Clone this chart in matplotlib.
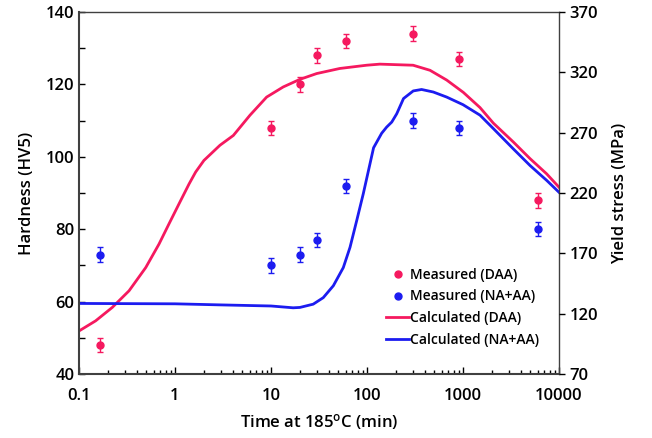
import numpy as np
import matplotlib
matplotlib.use("Agg")
import matplotlib.pyplot as plt
from matplotlib.lines import Line2D
from matplotlib.ticker import LogLocator, FixedLocator, NullFormatter

plt.rcParams['font.family'] = ['Open Sans', 'DejaVu Sans']
plt.rcParams['mathtext.default'] = 'regular'

# measured hardness (HV5)
meas_time = [0.167, 10, 20, 30, 60, 300, 900, 6000]
meas_daa = [48, 108, 120, 128, 132, 134, 127, 88]
meas_na_aa = [73, 70, 73, 77, 92, 110, 108, 80]
meas_err = [2, 2, 2, 2, 2, 2, 2, 2]

# calculated curves
calc_daa_t = [0.1, 0.149, 0.222, 0.332, 0.495, 0.681, 0.866, 1.10, 1.40, 1.64, 2.0,
              2.94, 4.05, 6.04, 9.0, 13.4, 20, 29.9, 52, 99, 136, 302, 453, 676,
              1007, 1503, 2070, 3340, 4990, 7430, 10000]
calc_daa_hv = [51.9, 54.7, 58.4, 63.0, 69.4, 75.9, 81.5, 87.0, 92.5, 95.8, 99.0,
               103.2, 105.9, 111.5, 116.5, 119.3, 121.4, 123.0, 124.4, 125.3, 125.6, 125.3, 123.9, 121.2,
               117.8, 113.6, 109.3, 104.1, 99.5, 95.3, 91.6]
calc_na_t = [0.1, 1, 3, 10, 17, 20, 27.5, 35, 44.6, 56.6, 66.5, 78.1, 91.4, 107.4, 117,
             142, 160, 181, 204, 240, 303, 370, 490, 676, 1000, 1503, 2070, 3340,
             4990, 7430, 10000]
calc_na_hv = [59.5, 59.4, 59.1, 58.8, 58.3, 58.4, 59.3, 61.1, 64.4, 69.4, 75.0, 82.4, 89.8, 98.1, 102.5,
              106.5, 108.2, 109.6, 111.9, 116.1, 118.2, 118.6, 117.9, 116.5, 114.4, 111.5, 107.8, 102.2,
              97.6, 93.5, 90.2]

red = '#f5195f'
blue = '#1c1cf0'

fig = plt.figure(figsize=(6.52, 4.38), dpi=100)
ax = fig.add_axes([0.1212, 0.146, 0.7362, 0.8266])

ax.plot(calc_daa_t, calc_daa_hv, color=red, lw=2)
ax.plot(calc_na_t, calc_na_hv, color=blue, lw=2)
ax.errorbar(meas_time, meas_daa, yerr=meas_err, fmt='o', color=red, ms=5,
            elinewidth=1, capsize=2.5)
ax.errorbar(meas_time, meas_na_aa, yerr=meas_err, fmt='o', color=blue, ms=5,
            elinewidth=1, capsize=2.5)

ax.set_xscale('log')
ax.set_xlim(0.1, 10000)
ax.set_ylim(40, 140)
ax.set_xticks([0.1, 1, 10, 100, 1000, 10000])
ax.set_xticklabels(['0.1', '1', '10', '100', '1000', '10000'])
ax.xaxis.set_minor_locator(LogLocator(base=10, subs=np.arange(2, 10)))
ax.xaxis.set_minor_formatter(NullFormatter())
ax.set_yticks([40, 60, 80, 100, 120, 140])
ax.yaxis.set_minor_locator(FixedLocator([50, 70, 90, 110, 130]))

ax.tick_params(axis='x', which='major', direction='in', length=5, width=1, labelsize=12, pad=10)
ax.tick_params(axis='x', which='minor', direction='in', length=3, width=1)
ax.tick_params(axis='y', which='both', direction='in', length=4, width=1, labelsize=12)
for lab in ax.get_xticklabels() + ax.get_yticklabels():
    lab.set_fontweight('semibold')

for side in ['left', 'bottom']:
    ax.spines[side].set_linewidth(1.5)
    ax.spines[side].set_color('#404040')
for side in ['top', 'right']:
    ax.spines[side].set_linewidth(1.0)
    ax.spines[side].set_color('#404040')

ax.set_xlabel('Time at 185$^{o}$C (min)', fontsize=12, fontweight='semibold', labelpad=6)
ax.set_ylabel('Hardness (HV5)', fontsize=12, fontweight='semibold', labelpad=8)

ax2 = ax.twinx()
ax2.set_ylim(70, 370)
ax2.set_yticks([70, 120, 170, 220, 270, 320, 370])
ax2.tick_params(axis='y', direction='out', length=4, width=1, labelsize=12)
for lab in ax2.get_yticklabels():
    lab.set_fontweight('semibold')
ax2.set_ylabel('Yield stress (MPa)', fontsize=12, fontweight='semibold', labelpad=10)
for s in ax2.spines.values():
    s.set_visible(False)

handles = [
    Line2D([], [], ls='none', marker='o', ms=5, color=red),
    Line2D([], [], ls='none', marker='o', ms=5, color=blue),
    Line2D([], [], color=red, lw=2),
    Line2D([], [], color=blue, lw=2),
]
labels = ['Measured (DAA)', 'Measured (NA+AA)', 'Calculated (DAA)', 'Calculated (NA+AA)']
leg = ax.legend(handles, labels, loc='lower right', bbox_to_anchor=(0.97, 0.06),
                frameon=False, fontsize=10, handlelength=1.6, handletextpad=0.1,
                labelspacing=0.55, borderaxespad=0)
for t in leg.get_texts():
    t.set_fontweight('semibold')

fig.savefig('out.png', dpi=100)
